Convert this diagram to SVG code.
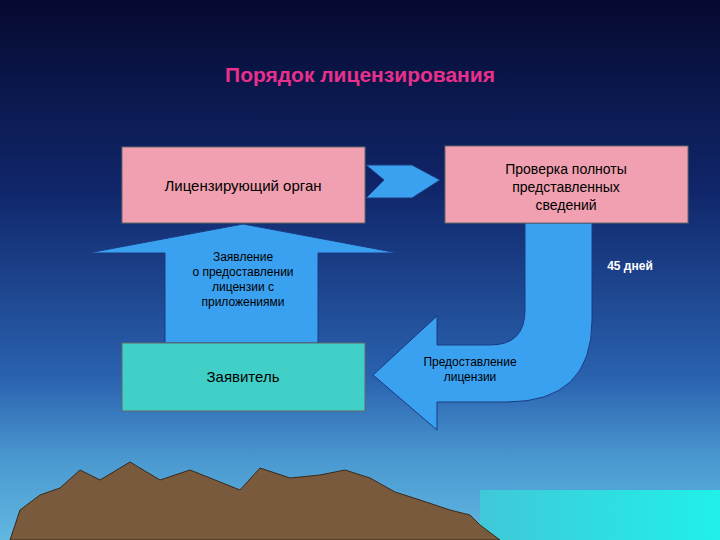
<svg xmlns="http://www.w3.org/2000/svg" width="720" height="540" viewBox="0 0 720 540">
<defs>
<linearGradient id="bg" x1="0" y1="0" x2="0" y2="1">
<stop offset="0" stop-color="#060a30"/>
<stop offset="0.35" stop-color="#10266a"/>
<stop offset="0.7" stop-color="#2a62b0"/>
<stop offset="0.85" stop-color="#4a98d0"/>
<stop offset="1" stop-color="#60b8e0"/>
</linearGradient>
<linearGradient id="sea" x1="0" y1="0" x2="1" y2="0">
<stop offset="0" stop-color="#40c8d8"/>
<stop offset="1" stop-color="#20f0e8"/>
</linearGradient>
<style>
.box{stroke:#666;stroke-width:1}
.arr{fill:#3aa0f0;stroke:#1a3a80;stroke-width:1}
.t{font-family:"Liberation Sans",Arial,sans-serif;fill:#000;text-anchor:middle}
.w{font-family:"Liberation Sans",Arial,sans-serif;fill:#fff;text-anchor:middle;font-weight:bold}
</style>
</defs>
<rect width="720" height="540" fill="url(#bg)"/>
<rect x="480" y="490" width="240" height="50" fill="url(#sea)"/>
<polygon points="10,540 20,510 40,495 60,488 80,470 100,480 130,462 160,480 190,470 215,480 240,490 260,468 290,478 320,475 345,470 370,478 395,492 420,500 450,510 470,515 480,525 500,540" fill="#7a5a3c" stroke="#3a2818"/>
<text x="360" y="82" font-family="Liberation Sans,Arial,sans-serif" font-size="21" font-weight="bold" fill="#e8308c" text-anchor="middle">Порядок лицензирования</text>
<g id="connectors">
<polygon class="arr" points="366,165 412,165 440,180 412,198 366,198 384,180"/>
<path class="arr" d="M88,253 L243,224 L398,253 L318,253 L318,343 L165,343 L165,253 Z"/>
<path class="arr" d="M525,223 L592,223 L592,320 Q592,402 507,402 L437,402 L437,430 L373,375 L437,316 L437,345 L490,345 Q525,345 525,310 Z"/>
</g>
<g id="n1"><rect class="box" x="122" y="147" width="243" height="76" fill="#f0a0b0"/>
<text class="t" x="243" y="191" font-size="15">Лицензирующий орган</text></g>
<g id="n2"><rect class="box" x="445" y="146" width="243" height="77" fill="#f0a0b0"/>
<text class="t" x="566" y="174" font-size="14">Проверка полноты</text>
<text class="t" x="566" y="192" font-size="14">представленных</text>
<text class="t" x="566" y="210" font-size="14">сведений</text></g>
<g id="n3"><rect class="box" x="122" y="343" width="243" height="68" fill="#40d0c8"/>
<text class="t" x="243" y="382" font-size="15">Заявитель</text></g>
<g id="labels">
<text class="t" x="243" y="261" font-size="12">Заявление</text>
<text class="t" x="243" y="276" font-size="12">о предоставлении</text>
<text class="t" x="243" y="291" font-size="12">лицензии с</text>
<text class="t" x="243" y="306" font-size="12">приложениями</text>
<text class="t" x="470" y="366" font-size="12">Предоставление</text>
<text class="t" x="470" y="381" font-size="12">лицензии</text>
<text class="w" x="630" y="270" font-size="12">45 дней</text>
</g>
</svg>
